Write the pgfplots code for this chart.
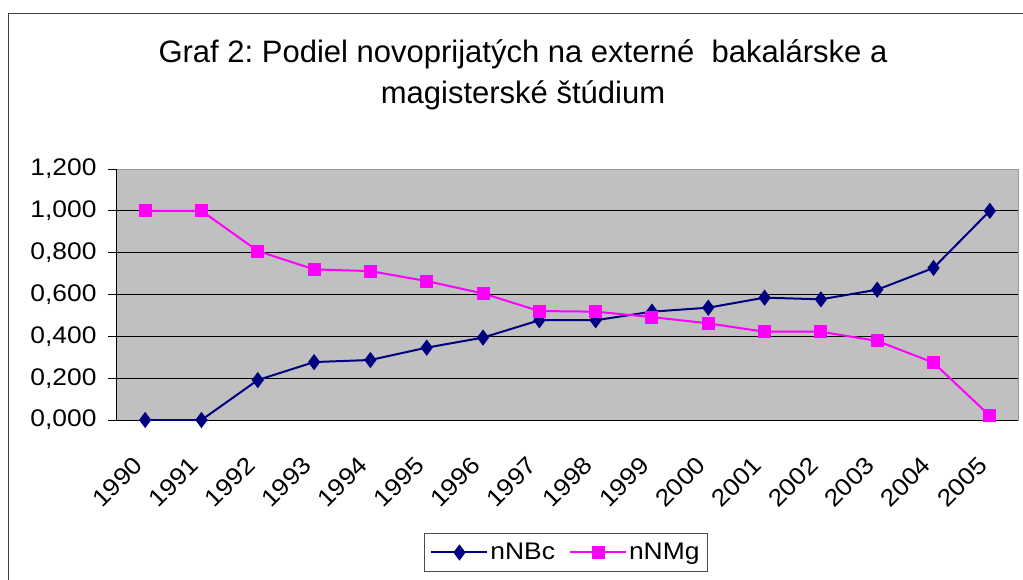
\documentclass[border=0pt]{standalone}
\usepackage{fontspec}
\setmainfont{Liberation Sans}
\newfontfamily\tickfont[FakeStretch=1.1]{Liberation Sans}
\usepackage{pgfplots}
\pgfplotsset{compat=1.18}
\definecolor{plotbg}{HTML}{C0C0C0}
\definecolor{bcnavy}{HTML}{000080}
\definecolor{mgpink}{HTML}{FF00FF}
\frenchspacing

\begin{document}
\begin{tikzpicture}
\useasboundingbox (0pt,0pt) rectangle (1023pt,-579pt);
\fill[white] (0pt,0pt) rectangle (1023pt,-579pt);
\draw[line width=1.3pt, black!75] (8.5pt,-700pt) -- (8.5pt,-13.5pt) -- (1100pt,-13.5pt);
\node[anchor=base, inner sep=0pt, font=\fontsize{31}{36}\selectfont] at (523pt,-62pt)
  {Graf 2: Podiel novoprijatých na externé\ \ bakalárske a};
\node[anchor=base, inner sep=0pt, font=\fontsize{31}{36}\selectfont] at (523pt,-103pt)
  {magisterské štúdium};

\begin{axis}[
  at={(117pt,-420pt)}, anchor=south west,
  scale only axis, width=901pt, height=251pt,
  xmin=-0.5, xmax=15.5, ymin=0, ymax=1.2,
  axis background/.style={fill=plotbg, draw=black!40, line width=1pt},
  axis x line*=bottom, axis y line*=left,
  axis line style={-, black, line width=1pt},
  xtick={0,...,15},
  xticklabels={1990,1991,1992,1993,1994,1995,1996,1997,1998,1999,2000,2001,2002,2003,2004,2005},
  xtick style={draw=none},
  minor xtick={-0.5,0.5,...,15.5},
  minor tick length=8pt,
  minor tick style={black, line width=1pt},
  xticklabel style={font=\tickfont\fontsize{24}{28}\selectfont, inner sep=0pt,
    xshift=-7pt, yshift=-32pt, rotate=45, anchor=east},
  ytick={0,0.2,0.4,0.6,0.8,1.0},
  extra y ticks={1.2},
  extra y tick style={ymajorgrids=false},
  tick align=outside,
  major tick length=9pt,
  ytick style={black, line width=1pt},
  ymajorgrids,
  major grid style={black, line width=1pt},
  yticklabel style={font=\tickfont\fontsize{24}{28}\selectfont, xshift=-8pt},
  /pgf/number format/.cd, fixed, fixed zerofill, precision=3, use comma, assume math mode=true,
  /pgfplots/.cd,
  legend columns=2,
  legend style={at={(0.3407,-0.45)}, anchor=north west, draw=black!70, line width=1pt,
    font=\tickfont\fontsize{24}{28}\selectfont, inner xsep=6pt, inner ysep=8pt,
    /tikz/every even column/.append style={column sep=12pt}},
  legend image code/.code={\draw[mark repeat=2,mark phase=2] plot coordinates {(0pt,0pt) (28pt,0pt) (56pt,0pt)};},
]
\addplot[bcnavy, line width=2pt, mark=diamond*, mark size=6.5pt, mark options={solid, fill=bcnavy}] coordinates {
  (0,0) (1,0) (2,0.191) (3,0.277) (4,0.287) (5,0.346) (6,0.394) (7,0.477)
  (8,0.477) (9,0.518) (10,0.537) (11,0.585) (12,0.577) (13,0.623) (14,0.727) (15,1.0)};
\addplot[mgpink, line width=2pt, mark=square*, mark size=5.5pt, mark options={solid, fill=mgpink}] coordinates {
  (0,1.0) (1,1.0) (2,0.808) (3,0.720) (4,0.712) (5,0.664) (6,0.605) (7,0.521)
  (8,0.518) (9,0.492) (10,0.462) (11,0.422) (12,0.422) (13,0.378) (14,0.274) (15,0.02)};
\legend{nNBc, nNMg}
\end{axis}
\end{tikzpicture}
\end{document}
